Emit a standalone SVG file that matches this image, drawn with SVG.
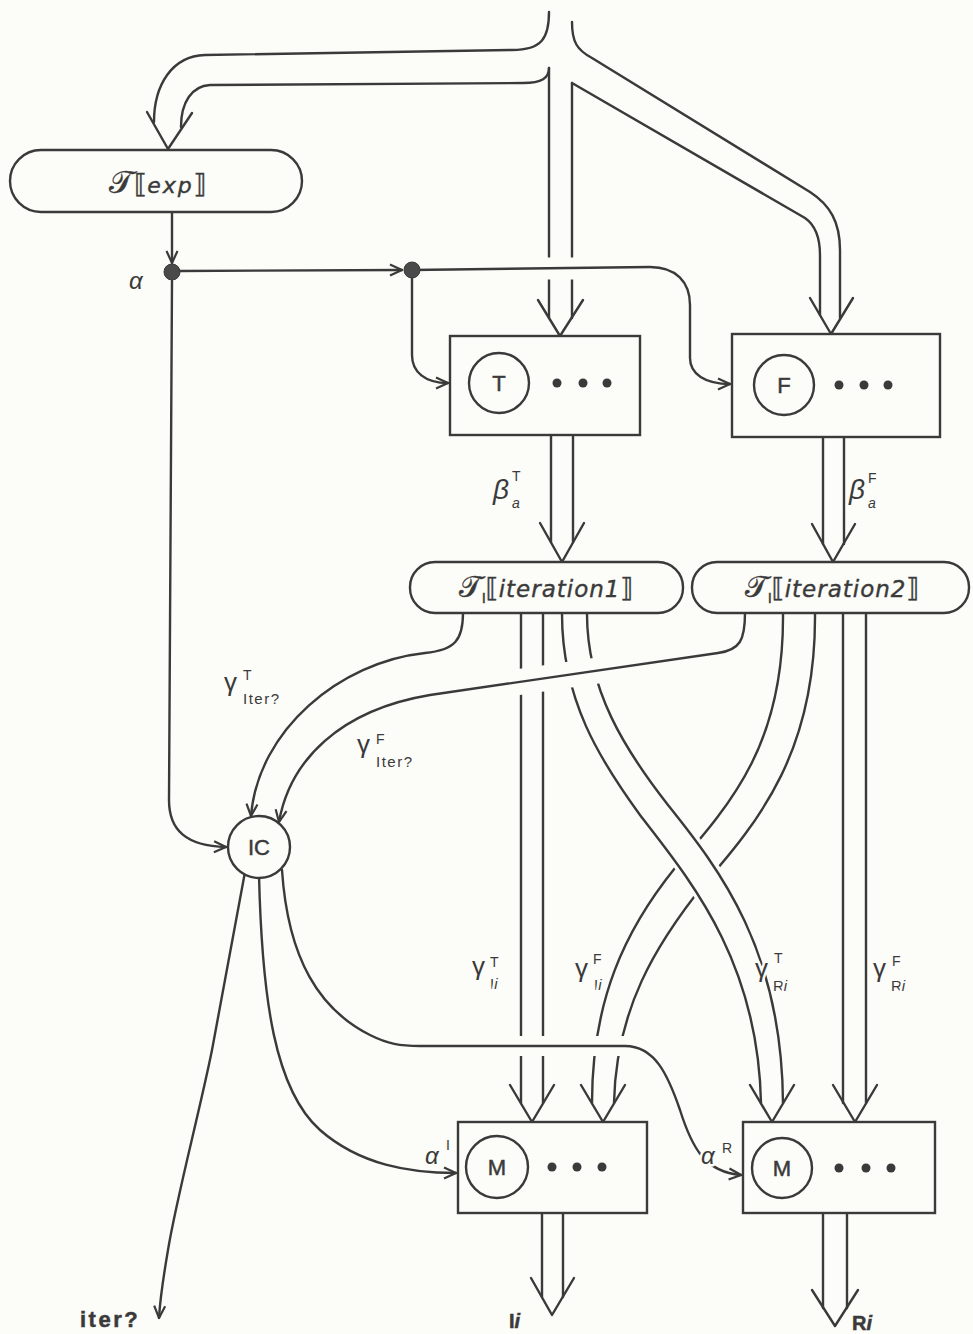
<svg xmlns="http://www.w3.org/2000/svg" width="973" height="1334" viewBox="0 0 973 1334">
<defs>
<style>
.ln{fill:none;stroke:#3a3a3a;stroke-width:2.4;stroke-linecap:round;stroke-linejoin:round}
.ar{marker-end:url(#ah)}
.halo{fill:none;stroke:#fcfcf8;stroke-linecap:butt}
.nd{fill:#fcfcf8;stroke:#3a3a3a;stroke-width:2.4}
.dot{fill:#3a3a3a}
.jn{fill:#4a4a4a;stroke:#3a3a3a;stroke-width:1}
.sans{font-family:"Liberation Sans",Arial,sans-serif;fill:#3a3a3a;stroke:#3a3a3a;stroke-width:0.5}
.gk{font-family:"Liberation Sans",Arial,sans-serif;fill:#3a3a3a;paint-order:stroke;stroke:#fcfcf8;stroke-width:5;stroke-linejoin:round}
.pl{font-family:"DejaVu Sans","Liberation Sans",sans-serif;fill:#3a3a3a;stroke:#3a3a3a;stroke-width:0.4}
.it{font-style:italic}
</style>
<marker id="ah" viewBox="0 0 14 14" refX="13" refY="7" markerWidth="14" markerHeight="14" markerUnits="userSpaceOnUse" orient="auto">
<path d="M1,1.5 L13,7 L1,12.5" fill="none" stroke="#3a3a3a" stroke-width="2.2"/>
</marker>
</defs>
<rect width="973" height="1334" fill="#fcfcf8"/>
<g id="connectors">
<path class="ln" d="M549 12 C549 38 542 50 512 50 L205 55 C172 56 154 85 154 122"/>
<path class="ln" d="M549 68 C549 78 542 83 523 83 L210 85 C192 86 181 102 181 127"/>
<polyline class="ln" points="147,112 168,149 192,113"/>
<path class="ln" d="M549 68 L549 318 M572 83 L572 318"/>
<polyline class="ln" points="538,300 560,336 583,300"/>
<path class="ln" d="M572 22 C572 42 577 50 592 58 L810 192 C830 205 840 222 840 250 L840 318"/>
<path class="ln" d="M572 83 L805 218 C815 225 820 236 820 255 L820 315"/>
<polyline class="ln" points="810,298 831,334 853,298"/>
<path class="halo" style="stroke-width:22" d="M538 268.5 L584 268.5"/>
<path class="ln ar" d="M172 213 L172 263"/>
<path class="ln ar" d="M180 271 L402 270"/>
<path class="ln ar" d="M412 270 L650 267 C676 267 690 282 690 305 L690 358 C690 374 705 384 730 384"/>
<path class="ln ar" d="M412 276 L412 355 C412 372 425 383 448 383"/>
<path class="ln ar" d="M172 281 L169 800 C169 830 186 846 226 847"/>
<path class="ln" d="M551 436 L551 542 M573 436 L573 542"/>
<polyline class="ln" points="540,523 562,562 584,523"/>
<path class="ln" d="M823 438 L823 544 M844 438 L844 544"/>
<polyline class="ln" points="812,524 833,562 855,524"/>
<path class="ln" d="M521 614 L521 1103 M543 614 L543 1103"/>
<polyline class="ln" points="510,1085 532,1122 554,1085"/>
<path class="ln" d="M783 614 C784 740 735 800 675 868 C625 930 592 1000 592 1103"/>
<path class="ln" d="M815 614 C816 750 760 820 705 883 C655 945 616 1010 614 1103"/>
<polyline class="ln" points="581,1085 603,1122 625,1085"/>
<path class="ln" d="M843 614 L843 1103 M866 614 L866 1103"/>
<polyline class="ln" points="833,1085 855,1122 877,1085"/>
<path class="halo" style="stroke-width:38" d="M574.5 616 C574.5 695 612.5 755 654 810 C705 875 770 955 772 1092"/>
<path class="ln" d="M562 614 C562 700 600 760 640 815 C690 880 758 960 761 1103"/>
<path class="ln" d="M587 614 C587 690 625 750 668 805 C720 870 782 950 783 1103"/>
<polyline class="ln" points="750,1085 772,1122 794,1085"/>
<path class="halo" style="stroke-width:26" d="M640 664.4 L494 685.7"/>
<path class="ln ar" d="M745 613 C745 640 740 650 718 653 L430 695 C340 710 290 760 279 822"/>
<path class="ln ar" d="M463 613 C463 640 455 650 425 653 C340 662 258 730 251 816"/>
<path class="halo" style="stroke-width:20" d="M445 1046 L640 1046"/>
<path class="ln ar" d="M282 870 C288 960 320 1010 370 1035 C388 1044 400 1046 420 1046 L625 1046 C655 1046 668 1075 680 1110 C692 1148 705 1172 741 1175"/>
<path class="ln ar" d="M259 875 C262 1000 275 1090 320 1130 C360 1165 410 1173 456 1173"/>
<path class="ln ar" d="M245 872 L212 1050 C200 1110 176 1200 168 1250 C162 1285 160 1300 159 1318"/>
<path class="ln" d="M542 1213 L542 1297 M563 1213 L563 1297"/>
<polyline class="ln" points="531,1278 552,1315 574,1278"/>
<path class="ln" d="M823 1213 L823 1308 M847 1213 L847 1308"/>
<polyline class="ln" points="812,1290 835,1326 858,1290"/>
</g>
<g id="node-exp">
<rect class="nd" x="10" y="150" width="292" height="62" rx="31"/>
<text class="pl" x="158" y="193" text-anchor="middle"><tspan font-size="32" font-family="DejaVu Serif, serif">𝒯</tspan><tspan font-size="26">⟦</tspan><tspan class="it" font-size="22" letter-spacing="2">exp</tspan><tspan font-size="26">⟧</tspan></text>
</g>
<g id="junction-alpha"><circle class="jn" cx="172" cy="272" r="8"/></g>
<g id="junction-2"><circle class="jn" cx="412" cy="270" r="8"/></g>
<g id="node-T">
<rect class="nd" x="450" y="336" width="190" height="99"/>
<circle class="nd" cx="499" cy="383" r="30"/>
<text class="sans" x="499" y="391" font-size="22" text-anchor="middle">T</text>
<circle class="dot" cx="557" cy="383" r="4.5"/><circle class="dot" cx="583" cy="383" r="4.5"/><circle class="dot" cx="607" cy="383" r="4.5"/>
</g>
<g id="node-F">
<rect class="nd" x="732" y="334" width="208" height="103"/>
<circle class="nd" cx="784" cy="385" r="30"/>
<text class="sans" x="784" y="393" font-size="22" text-anchor="middle">F</text>
<circle class="dot" cx="839" cy="385" r="4.5"/><circle class="dot" cx="864" cy="385" r="4.5"/><circle class="dot" cx="888" cy="385" r="4.5"/>
</g>
<g id="node-iter1">
<rect class="nd" x="410" y="562" width="273" height="51" rx="25"/>
<text class="pl" x="546" y="597" text-anchor="middle"><tspan font-size="30" font-family="DejaVu Serif, serif">𝒯</tspan><tspan font-size="14" dy="6">I</tspan><tspan font-size="26" dy="-6">⟦</tspan><tspan class="it" font-size="23" letter-spacing="1">iteration1</tspan><tspan font-size="26">⟧</tspan></text>
</g>
<g id="node-iter2">
<rect class="nd" x="692" y="562" width="277" height="51" rx="25"/>
<text class="pl" x="832" y="597" text-anchor="middle"><tspan font-size="30" font-family="DejaVu Serif, serif">𝒯</tspan><tspan font-size="14" dy="6">I</tspan><tspan font-size="26" dy="-6">⟦</tspan><tspan class="it" font-size="23" letter-spacing="1">iteration2</tspan><tspan font-size="26">⟧</tspan></text>
</g>
<g id="node-IC">
<circle class="nd" cx="259" cy="847" r="31"/>
<text class="sans" x="259" y="855" font-size="22" text-anchor="middle">IC</text>
</g>
<g id="node-MI">
<rect class="nd" x="458" y="1122" width="189" height="91"/>
<circle class="nd" cx="497" cy="1167" r="31"/>
<text class="sans" x="497" y="1175" font-size="22" text-anchor="middle">M</text>
<circle class="dot" cx="552" cy="1167" r="4.5"/><circle class="dot" cx="577" cy="1167" r="4.5"/><circle class="dot" cx="602" cy="1167" r="4.5"/>
</g>
<g id="node-MR">
<rect class="nd" x="743" y="1122" width="192" height="91"/>
<circle class="nd" cx="782" cy="1168" r="30"/>
<text class="sans" x="782" y="1176" font-size="22" text-anchor="middle">M</text>
<circle class="dot" cx="839" cy="1168" r="4.5"/><circle class="dot" cx="866" cy="1168" r="4.5"/><circle class="dot" cx="891" cy="1168" r="4.5"/>
</g>
<g id="labels">
<text class="gk it" x="129" y="289" font-size="24">α</text>
<text class="gk"><tspan class="it" x="493" y="499" font-size="28">β</tspan><tspan x="512" y="481" font-size="14">T</tspan><tspan class="it" x="512" y="508" font-size="14">a</tspan></text>
<text class="gk"><tspan class="it" x="849" y="499" font-size="28">β</tspan><tspan x="868" y="483" font-size="14">F</tspan><tspan class="it" x="868" y="508" font-size="14">a</tspan></text>
<text class="gk"><tspan x="224" y="691" font-size="26">γ</tspan><tspan x="243" y="680" font-size="14">T</tspan><tspan x="243" y="704" font-size="15" letter-spacing="1.5">Iter?</tspan></text>
<text class="gk"><tspan x="357" y="753" font-size="26">γ</tspan><tspan x="376" y="744" font-size="14">F</tspan><tspan x="376" y="767" font-size="15" letter-spacing="1.5">Iter?</tspan></text>
<text class="gk"><tspan x="472" y="975" font-size="26">γ</tspan><tspan x="490" y="967" font-size="14">T</tspan><tspan x="490" y="989" font-size="15">I</tspan><tspan class="it" font-size="15">i</tspan></text>
<text class="gk"><tspan x="575" y="977" font-size="26">γ</tspan><tspan x="593" y="964" font-size="14">F</tspan><tspan x="594" y="990" font-size="15">I</tspan><tspan class="it" font-size="15">i</tspan></text>
<text class="gk"><tspan x="755" y="977" font-size="26">γ</tspan><tspan x="774" y="963" font-size="14">T</tspan><tspan x="773" y="991" font-size="15">R</tspan><tspan class="it" font-size="15">i</tspan></text>
<text class="gk"><tspan x="873" y="977" font-size="26">γ</tspan><tspan x="892" y="966" font-size="14">F</tspan><tspan x="891" y="991" font-size="15">R</tspan><tspan class="it" font-size="15">i</tspan></text>
<text class="gk"><tspan class="it" x="425" y="1164" font-size="24">α</tspan><tspan x="446" y="1150" font-size="14">I</tspan></text>
<text class="gk"><tspan class="it" x="701" y="1164" font-size="24">α</tspan><tspan x="722" y="1153" font-size="14">R</tspan></text>
<text class="sans" x="80" y="1327" font-size="22" font-weight="bold" letter-spacing="2.5">iter?</text>
<text class="sans" x="509" y="1328" font-size="20" font-weight="bold">I<tspan class="it">i</tspan></text>
<text class="sans" x="852" y="1330" font-size="20" font-weight="bold">R<tspan class="it">i</tspan></text>
</g>
</svg>
